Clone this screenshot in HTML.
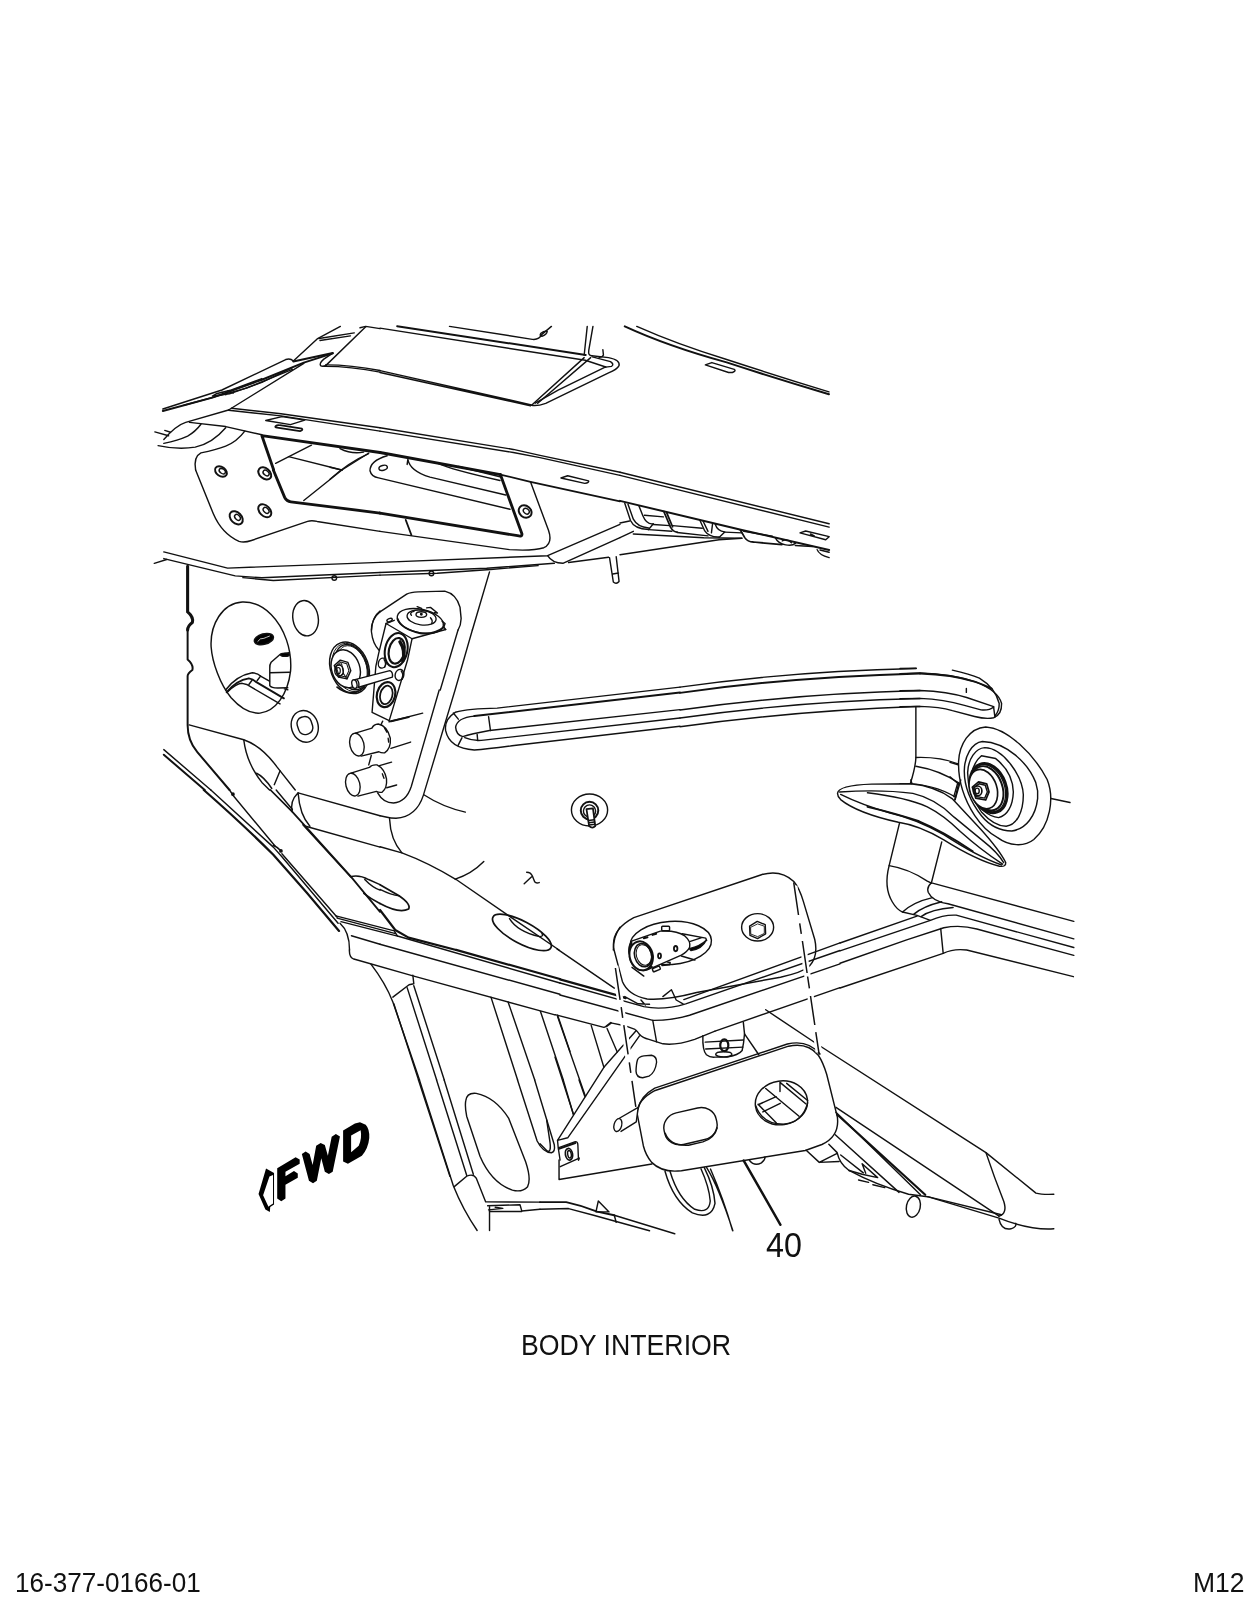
<!DOCTYPE html>
<html><head><meta charset="utf-8">
<style>
html,body{margin:0;padding:0;background:#fff;}
body{width:1260px;height:1605px;position:relative;overflow:hidden;font-family:"Liberation Sans",sans-serif;color:#111;}
svg{position:absolute;left:0;top:0;}
.t{position:absolute;white-space:nowrap;line-height:1;transform:scaleY(1.075);transform-origin:50% 50%;will-change:transform;opacity:0.999;}
</style></head><body>
<svg width="1260" height="1605" viewBox="0 0 1260 1605" fill="none" stroke="#111" stroke-width="1.45" stroke-linecap="round" stroke-linejoin="round">
<g transform="translate(140,310) scale(0.190476)" stroke-width="7.47">
<path d="M1052,86 L930,152 L805,268"/>
<path d="M1125,120 L940,150 M1105,136 L945,160"/>
<path d="M1155,93 L1185,86 L1260,98"/>
<path d="M1185,88 L975,292"/>
<path d="M120,520 L430,420 L765,260 Q790,252 805,268"/>
<path d="M805,270 L1012,226" stroke-width="10.35"/>
<path d="M1012,226 L965,258 Q940,280 948,292 Q960,300 978,290"/>
<path d="M965,296 Q1100,295 1260,326"/>
<path d="M975,288 Q1110,288 1260,318"/>
<path d="M1012,228 L860,276 L640,366 L380,460 L120,530" stroke-width="10.35"/>
<path d="M800,302 L640,380 L470,440 L380,452 L400,440 L480,420 L640,360"/>
<path d="M430,432 L450,445 M460,425 L490,436"/>
<path d="M800,312 L560,410 L230,500"/>
<path d="M860,280 L465,525"/>
<path d="M465,525 L240,590 Q190,605 125,680"/>
<path d="M480,516 L740,545 L1260,618"/>
<path d="M465,526 L740,556 L1260,636"/>
<path d="M260,590 L450,612 L640,655"/>
<path d="M660,580 L745,560 L865,578 L790,602 Z"/>
<path d="M712,610 Q720,602 735,605 L850,623 Q858,630 840,636 L720,618 Q706,616 712,610 Z" stroke-width="9.20"/>
<path d="M78,640 L150,660 M130,632 L160,642"/>
<path d="M125,700 Q200,685 250,662 Q290,640 320,600"/>
<path d="M95,712 Q200,735 290,720 Q380,700 450,618"/>
<path d="M292,840 Q280,770 320,750 Q400,735 450,715 Q510,690 550,636"/>
<path d="M640,660 L1260,748 M640,660 L702,840" stroke-width="14.95"/>
<path d="M712,805 L900,710"/>
<path d="M780,770 L1060,840"/>
<path d="M1060,840 L1200,752"/>
</g>

<g transform="translate(380,310) scale(0.190476)" stroke-width="7.47">
<path d="M0,95 L1078,264 L1185,299"/>
<path d="M90,85 L1080,236" stroke-width="10.35"/>
<path d="M365,86 L800,154 Q835,158 850,128 L900,86"/>
<path d="M845,122 Q835,135 850,138 Q875,130 878,112 Q862,108 845,122 Z"/>
<path d="M1088,86 L1072,236 M1118,86 L1096,212 Q1092,240 1112,240"/>
<path d="M1170,208 L1173,236 Q1168,248 1150,248"/>
<path d="M1112,240 L1200,250 Q1262,262 1255,292 Q1245,312 1200,330 L870,490 Q825,506 795,500"/>
<path d="M1115,246 L1210,271 Q1232,286 1215,296 L1185,300"/>
<path d="M800,496 L1072,250 M828,490 L1106,250"/>
<path d="M815,489 L935,421 L1185,299"/>
<path d="M0,318 L795,498 M0,328 L790,503"/>
<path d="M0,618 L700,732 L840,763 L1260,852"/>
<path d="M0,636 L700,748 L840,775 L1260,868"/>
</g>

<g transform="translate(620,310) scale(0.190476)" stroke-width="7.47">
<path d="M25,86 Q250,190 560,275 Q820,360 1097,442" stroke-width="10.35"/>
<path d="M88,86 Q300,180 560,260 Q820,345 1097,430"/>
<path d="M448,288 L482,276 L600,312 Q612,320 590,328 L570,328 Z"/>
</g>

<g transform="translate(140,470) scale(0.190476)" stroke-width="7.47">
<path d="M292,0 L385,230 Q430,335 520,375 Q548,383 585,370 L880,270 Q900,263 930,270 L1260,322"/>
<g stroke-width="10.35">
<ellipse cx="425" cy="8" rx="34" ry="24" transform="rotate(35 425 8)"/>
<ellipse cx="655" cy="18" rx="38" ry="27" transform="rotate(40 655 18)"/>
<ellipse cx="505" cy="251" rx="40" ry="28" transform="rotate(45 505 251)"/>
<ellipse cx="655" cy="214" rx="40" ry="27" transform="rotate(45 655 214)"/>
</g>
<ellipse cx="432" cy="6" rx="18" ry="12" transform="rotate(35 432 6)"/>
<ellipse cx="662" cy="16" rx="18" ry="12" transform="rotate(40 662 16)"/>
<ellipse cx="512" cy="249" rx="18" ry="12" transform="rotate(45 512 249)"/>
<ellipse cx="662" cy="212" rx="18" ry="12" transform="rotate(45 662 212)"/>
<path d="M700,0 L760,145 Q770,165 792,167 L1260,226" stroke-width="14.95"/>
<path d="M860,160 L1060,0"/>
<path d="M125,430 L460,515 L1260,485"/>
<path d="M75,490 L140,470"/>
<path d="M125,465 L500,556 L640,566 L1260,538"/>
<path d="M540,565 L700,580 L1260,552"/>
<circle cx="1020" cy="567" r="12"/>
<path d="M250,505 L250,745 Q282,772 275,800 Q250,818 250,840" stroke-width="16.10"/>
<path d="M1215,840 Q1220,770 1260,740"/>
</g>

<g transform="translate(380,470) scale(0.190476)" stroke-width="7.47">
<path d="M0,-92 L632,24" stroke-width="14.95"/>
<path d="M632,24 L790,62 L1260,165" stroke-width="9.20"/>
<path d="M950,42 L985,30 L1095,57 Q1100,66 1075,70 Z"/>
<path d="M632,24 L745,335 Q748,352 722,345 L0,226" stroke-width="14.95"/>
<path d="M0,322 L680,418 Q800,426 860,408 Q908,385 885,318 L790,62"/>
<path d="M135,262 L165,342" stroke-width="9.20"/>
<ellipse cx="762" cy="218" rx="36" ry="30" transform="rotate(40 762 218)" stroke-width="10.35"/>
<ellipse cx="768" cy="216" rx="17" ry="13" transform="rotate(40 768 216)"/>
<path d="M0,485 L880,450 L1260,285"/>
<path d="M880,450 Q905,490 960,490 L1260,355"/>
<path d="M0,538 L560,516 L915,490"/>
<path d="M0,552 L300,542 L580,522 L830,502"/>
<circle cx="270" cy="543" r="12"/>
<path d="M990,486 L1200,458"/>
<path d="M1205,460 L1225,588 Q1240,602 1255,585 L1240,455 M1222,546 L1252,541"/>
<path d="M575,535 L485,840"/>
<path d="M0,745 L140,652 Q160,641 200,640 L340,636 Q400,650 420,720 L426,780 Q425,815 410,840"/>
</g>

<g transform="translate(620,470) scale(0.190476)" stroke-width="7.47">
<path d="M0,12 L1098,282 M0,28 L1098,300"/>
<path d="M0,162 L640,315 L1098,420" stroke-width="10.35"/>
<path d="M945,330 L975,320 L1098,350 L1080,366 Z M1000,336 L1020,346"/>
<path d="M25,175 L55,265 Q75,310 150,312 M42,180 L70,258 Q92,300 150,304"/>
<path d="M100,190 L120,240 Q140,288 175,282 L150,312"/>
<path d="M128,238 L228,246 M175,286 L262,292 M150,313 L272,322 M300,328 L462,346 M276,292 L432,306"/>
<path d="M230,218 L265,300 Q280,326 300,326 M246,226 L276,298" stroke-width="9.20"/>
<path d="M420,265 L445,320 Q468,354 520,352 M436,268 L462,322"/>
<path d="M486,282 L480,330 M500,285 Q512,322 550,325 L520,355"/>
<path d="M550,326 L640,330"/>
<path d="M632,315 L655,355 Q670,378 700,378 L850,392" stroke-width="9.20"/>
<path d="M650,322 L800,348"/>
<path d="M815,355 Q830,386 870,393 Q905,400 922,384 M852,372 Q880,358 900,382"/>
<path d="M920,396 L1010,402"/>
<path d="M1035,418 Q1045,446 1098,460 M1050,420 L1098,432"/>
<path d="M0,278 L50,268 M0,355 L70,322"/>
<path d="M70,336 L440,356 L640,358"/>
<path d="M0,445 L520,366 L640,358"/>
</g>

<g transform="translate(330,425) scale(0.142857)" stroke-width="10.06">
<path d="M70,165 Q150,206 235,190"/>
<path d="M0,380 Q130,262 270,200"/>
<path d="M0,296 L83,316"/>
<path d="M400,215 Q280,250 280,320 Q290,362 340,370 L1260,590"/>
<ellipse cx="372" cy="300" rx="30" ry="17" transform="rotate(-15 372 300)"/>
<path d="M540,276 L545,240 Q560,322 700,365 L1230,490"/>
<path d="M760,270 Q850,312 1190,388"/>
<path d="M900,290 L1190,362"/>
</g>

<g transform="translate(140,630) scale(0.190476)" stroke-width="7.47">
<path d="M250,0 L250,155 Q282,182 275,210 Q250,228 250,242 L250,500 Q250,580 300,640 L470,840" stroke-width="10.35"/>
<ellipse cx="865" cy="506" rx="70" ry="84" transform="rotate(-18 865 506)"/>
<rect x="828" y="455" width="76" height="94" rx="34" transform="rotate(-18 865 502)"/>
<path d="M258,498 L545,576 Q640,610 720,720 L815,840"/>
<path d="M545,578 Q560,700 640,800 L680,840"/>
<path d="M612,752 Q650,770 692,832"/>
<path d="M735,740 L705,812"/>
<path d="M125,628 L372,840"/>
<path d="M125,655 L340,840" stroke-width="10.35"/>
</g>

<g transform="translate(440,630) scale(0.190476)" stroke-width="7.47">
<path d="M1260,300 L300,410 Q150,412 80,432 Q20,470 30,530 Q50,622 180,630 Q250,626 400,605 L1260,505"/>
<path d="M1260,328 L180,452" stroke-width="10.35"/>
<path d="M180,452 Q90,460 82,510 Q85,552 120,560 Q160,546 260,528 L1260,418"/>
<path d="M1260,462 L230,578 Q180,586 130,565"/>
<path d="M255,455 L265,528 M195,548 L198,580 M115,566 L95,606 M70,436 L96,468"/>
</g>

<g transform="translate(680,630) scale(0.190476)" stroke-width="7.47">
<path d="M0,300 Q600,215 1240,202"/>
<path d="M0,330 Q600,245 1260,228" stroke-width="10.35"/>
<path d="M0,420 Q600,335 1260,318"/>
<path d="M0,462 Q600,376 1260,360"/>
<path d="M0,508 Q600,425 1240,402 L1260,402"/>
</g>

<g transform="translate(900,640) scale(0.15873)" stroke-width="8.97">
<path d="M0,180 L102,178"/>
<path d="M0,212 L126,208 Q330,215 480,265 Q620,320 640,400 Q642,470 590,490 Q540,500 470,482 L330,445 Q250,420 126,418 L0,420"/>
<path d="M126,211 Q330,218 470,262 Q540,286 578,306" stroke-width="11.50"/>
<path d="M330,190 Q440,215 500,240 Q600,300 625,400 Q626,445 600,476"/>
<path d="M0,320 L126,318 Q300,325 420,362 L590,420"/>
<path d="M0,370 L126,368 Q280,375 400,410 L510,440 Q560,446 590,422"/>
<path d="M590,425 L598,486 M418,305 L418,330"/>
<path d="M100,420 L100,740 Q98,800 65,905"/>
<path d="M100,740 Q250,735 365,780 M100,795 Q250,820 370,900 L345,1008"/>
<path d="M0,905 Q200,900 350,990"/>
</g>

<g transform="translate(200,600) scale(0.111111)" stroke-width="12.99">
<path d="M380,18 C200,30 90,220 100,420 C110,560 180,760 280,880 C360,970 450,1025 540,1018 C680,1000 790,850 815,640 C830,450 760,250 640,130 C560,50 460,15 380,18 Z"/>
<ellipse cx="950" cy="164" rx="114" ry="160" transform="rotate(-10 950 164)"/>
<ellipse cx="575" cy="352" rx="88" ry="47" transform="rotate(-15 575 352)" fill="#000"/>
<path d="M520,372 Q540,340 575,345 Q600,335 625,325" stroke="#fff" stroke-width="6.90"/>
<path d="M800,475 L720,490 L640,560 Q625,580 628,620 L628,770 Q640,790 700,792 L790,790 M628,655 L805,650"/>
<ellipse cx="765" cy="492" rx="40" ry="14" fill="#000"/>
<path d="M230,810 Q330,680 470,655 Q520,660 545,685 L625,730"/>
<path d="M240,830 Q330,720 440,705 Q480,712 500,735 L755,885" stroke-width="17.25"/>
<path d="M545,685 L515,725 M470,720 L440,760 M760,800 L790,808"/>
<path d="M250,825 Q330,750 380,750 L420,760 L720,935"/>
</g>

<g transform="translate(950,730) scale(0.095238)" stroke-width="14.95">
<path d="M375,-32 C200,-20 100,150 90,330 C85,500 130,700 260,900 C340,1020 420,1090 500,1130 C620,1220 780,1230 880,1150 C1050,1000 1100,720 1020,520 C880,250 600,-20 375,-32 Z" fill="#fff"/>
<path d="M340,120 C230,130 150,280 150,430 C150,600 220,760 330,900 C420,1010 520,1060 650,1060 C800,1040 900,900 920,720 L920,640 L900,550 C820,350 600,130 340,120 Z"/>
<path d="M365,185 C270,190 190,300 185,450 C185,600 240,740 330,860 C420,960 500,1010 590,1010 C700,1000 770,860 770,680 C760,480 560,190 365,185 Z"/>
<path d="M330,270 L480,300 C580,380 660,500 665,650 C660,800 600,900 510,920 C400,910 300,820 240,700 C190,580 210,370 330,270 Z"/>
<ellipse cx="405" cy="610" rx="185" ry="268" transform="rotate(-20 405 610)" stroke-width="27.60"/>
<ellipse cx="398" cy="611" rx="175" ry="256" transform="rotate(-20 398 611)" stroke-width="13.80"/>
<ellipse cx="390" cy="612" rx="160" ry="240" transform="rotate(-20 390 612)" stroke-width="20.70"/>
<ellipse cx="350" cy="620" rx="142" ry="212" transform="rotate(-18 350 620)" fill="#fff" stroke-width="17.25"/>
<path d="M235,600 L300,545 L385,565 L410,650 L375,735 L270,715 Z" stroke-width="18.40"/>
<path d="M250,605 L305,565 L370,580 L392,650 L365,715 L280,700 Z"/>
<ellipse cx="290" cy="640" rx="45" ry="52" stroke-width="17.25"/>
<ellipse cx="285" cy="640" rx="22" ry="30"/>
<path d="M1060,720 L1260,762"/>
<path d="M0,340 L85,365 M0,490 L80,560 L40,700"/>
</g>

<g transform="translate(320,600) scale(0.126984)" stroke-width="10.92">
<!-- bracket outline near valve -->
<path d="M472,94 Q400,150 405,250 Q415,345 465,395"/>
<path d="M1087,236 L947,709"/>
<!-- valve body -->
<path d="M520,185 L462,420 L440,520 L410,885 L545,950 L690,470 L725,305 Z"/>
<path d="M520,185 L585,160 M725,305 L990,232"/>
<ellipse cx="548" cy="158" rx="22" ry="12" transform="rotate(-20 548 158)"/>
<!-- ports -->
<ellipse cx="600" cy="395" rx="88" ry="136" transform="rotate(12 600 395)" stroke-width="16.10"/>
<ellipse cx="604" cy="400" rx="62" ry="102" transform="rotate(12 604 400)" stroke-width="17.25"/>
<path d="M630,330 Q676,400 652,478" stroke-width="27.60"/>
<ellipse cx="520" cy="745" rx="72" ry="100" transform="rotate(14 520 745)" stroke-width="17.25"/>
<ellipse cx="522" cy="748" rx="48" ry="74" transform="rotate(14 522 748)" stroke-width="13.80"/>
<ellipse cx="490" cy="497" rx="30" ry="40" transform="rotate(15 490 497)"/>
<path d="M505,470 Q525,500 510,530"/>
<ellipse cx="626" cy="590" rx="34" ry="44" transform="rotate(15 626 590)"/>
<path d="M640,560 Q662,590 648,625"/>
<!-- top disc -->
<ellipse cx="790" cy="165" rx="185" ry="92" transform="rotate(12 790 165)"/>
<path d="M612,150 Q640,230 790,262 Q900,275 975,215" stroke-width="14.95"/>
<ellipse cx="800" cy="138" rx="115" ry="58" transform="rotate(8 800 138)"/>
<ellipse cx="798" cy="115" rx="42" ry="22"/>
<circle cx="798" cy="112" r="6" fill="#000"/>
<path d="M765,52 L800,66 M840,62 L870,58 L925,102 L900,100 M962,168 L985,185 L975,215 L990,232"/>
<path d="M870,140 Q890,160 880,185 M720,120 Q700,100 740,90"/>
</g>

<g transform="translate(320,630) scale(0.063492)" stroke-width="21.85">
<!-- nut fastener -->
<ellipse cx="465" cy="595" rx="298" ry="418" transform="rotate(-20 465 595)" stroke-width="23.00"/>
<ellipse cx="478" cy="590" rx="270" ry="392" transform="rotate(-20 478 590)" stroke-width="13.80"/>
<ellipse cx="492" cy="585" rx="245" ry="368" transform="rotate(-20 492 585)" stroke-width="20.70"/>
<ellipse cx="505" cy="580" rx="222" ry="345" transform="rotate(-20 505 580)" stroke-width="13.80"/>
<ellipse cx="405" cy="610" rx="222" ry="305" transform="rotate(-18 405 610)" fill="#fff" stroke-width="23.00"/>
<path d="M225,560 L320,475 L440,510 L485,640 L425,770 L290,740 Z" stroke-width="23.00"/>
<path d="M250,570 L325,505 L420,530 L455,640 L410,740 L300,715 Z" stroke-width="16.10"/>
<path d="M340,530 L372,690 L425,770 M372,690 L290,740 M340,530 L250,570" stroke-width="16.10"/>
<ellipse cx="300" cy="640" rx="68" ry="88" stroke-width="20.70"/>
<ellipse cx="288" cy="640" rx="32" ry="50" stroke-width="18.40"/>
<path d="M270,900 Q400,1012 560,980 Q630,960 700,900" stroke-width="29.90"/>
<!-- rod -->
<path d="M520,790 L1100,640 Q1152,660 1140,742 L610,902" fill="#fff"/>
<ellipse cx="542" cy="852" rx="40" ry="68" transform="rotate(-12 542 852)" fill="#fff"/>
<path d="M585,782 Q625,830 608,900"/>
</g>

<g transform="translate(330,690) scale(0.126984)" stroke-width="10.92">
<path d="M860,0 L640,760 Q600,882 500,890 Q420,890 375,810"/>
<path d="M1121,-472 L985,0 L735,830 Q680,1000 520,1010 Q480,1010 440,1000 L394,990"/>
<path d="M415,245 L400,276"/>
<path d="M465,250 L730,182"/>
<path d="M480,246 L620,214" stroke-width="14.95"/>
<!-- cyl 1 -->
<path d="M200,340 L330,300 Q345,270 380,268 Q450,282 475,380 Q482,460 430,495 Q402,497 385,486 L245,521" fill="#fff"/>
<ellipse cx="212" cy="430" rx="55" ry="91" transform="rotate(-14 212 430)" fill="#fff"/>
<path d="M430,300 L448,332 M458,380 L462,410"/>
<path d="M480,460 L635,410"/>
<path d="M325,516 L305,590"/>
<!-- cyl 2 -->
<path d="M165,655 L310,610 Q330,586 370,590 Q430,620 445,700 Q452,772 410,805 Q385,809 365,798 L220,836" fill="#fff"/>
<ellipse cx="180" cy="745" rx="55" ry="91" transform="rotate(-14 180 745)" fill="#fff"/>
<path d="M412,660 L425,695"/>
<path d="M390,595 L485,568 M447,770 L525,748"/>
</g>

<g transform="translate(140,790) scale(0.190476)" stroke-width="7.47">
<path d="M335,0 Q540,180 700,340 Q880,540 1045,740" stroke-width="11.50"/>
<path d="M372,0 L700,300 L745,350 L1040,700"/>
<path d="M470,0 L490,30 L710,295 M745,335 L1035,668"/>
<circle cx="488" cy="22" r="6" fill="#000"/><circle cx="740" cy="320" r="6" fill="#000"/>
<path d="M700,290 Q722,300 738,318"/>
<path d="M685,0 L800,115 L1105,452 L1260,640" stroke-width="9.20"/>
<path d="M715,0 L800,102"/>
<path d="M830,15 L1260,135"/>
<path d="M830,15 Q785,60 800,115 M830,15 Q838,130 892,190"/>
<path d="M870,190 L1260,300"/>
<path d="M855,182 L1105,455"/>
<path d="M1105,455 Q1150,443 1200,470 L1260,497"/>
<path d="M1180,470 Q1220,512 1260,526"/>
<path d="M1050,700 Q1100,745 1100,840"/>
<path d="M1110,765 L1260,810"/>
</g>

<g transform="translate(380,790) scale(0.190476)" stroke-width="7.47">
<path d="M230,25 Q330,90 448,116"/>
<path d="M50,150 Q55,262 115,330"/>
<path d="M0,298 L115,330 Q250,380 400,470 L690,670 L940,840"/>
<path d="M395,468 Q480,442 545,376"/>
<path d="M770,432 Q792,432 800,452 L812,482 Q820,492 836,486 M796,455 L757,492"/>
<ellipse cx="1100" cy="105" rx="95" ry="84"/>
<circle cx="1100" cy="108" r="46" stroke-width="10.35"/>
<circle cx="1100" cy="110" r="32"/>
<path d="M1084,100 L1098,190 Q1115,205 1130,190 L1118,96 Z" fill="#fff" stroke-width="9.20"/>
<path d="M1094,160 L1125,156 M1096,172 L1127,168 M1098,184 L1129,180"/>
<path d="M0,497 L100,555 Q165,600 150,625 Q100,650 0,596" stroke-width="9.20"/>
<path d="M0,522 Q60,552 100,556"/>
<ellipse cx="745" cy="748" rx="172" ry="58" transform="rotate(28 745 748)" stroke-width="9.20"/>
<path d="M680,675 Q720,742 838,770 Q862,766 850,755"/>
<path d="M0,630 L80,735 L150,775 L400,840" stroke-width="11.50"/>
<path d="M1260,720 Q1225,770 1225,840"/>
</g>

<g transform="translate(820,780) scale(0.206349)" stroke-width="6.90">
<!-- flap -->
<path d="M85,65 Q88,25 250,20 L440,18 Q560,30 640,90 L780,240 Q870,340 900,400 Q902,422 870,418 Q760,390 600,290 Q480,220 380,205 Q180,160 100,95 Q85,80 85,65 Z" fill="#fff"/>
<path d="M95,58 Q300,45 450,65 Q560,90 650,180 L790,295 Q860,350 890,400"/>
<path d="M230,62 Q420,85 520,130 Q600,170 680,250 Q780,340 885,408"/>
<path d="M100,70 Q200,120 340,160 Q470,190 600,265 Q760,370 880,412"/>
<path d="M230,130 Q380,165 480,200 Q600,250 740,345" stroke-width="9.20"/>
<path d="M440,0 L446,18 M655,95 L682,0"/>
<!-- column -->
<path d="M385,210 L335,415 Q308,520 350,590 Q372,628 400,640 L470,656 L535,680"/>
<path d="M590,300 L540,498"/>
<path d="M335,415 Q430,430 520,490 L540,500"/>
<path d="M540,498 Q515,520 525,545 Q545,588 620,600 L1230,770"/>
<path d="M545,500 L1230,685"/>
<path d="M400,640 Q450,592 545,570 M455,650 Q500,612 590,590 M490,662 Q540,626 645,618"/>
<!-- rails -->
<path d="M97,790 L470,660"/>
<path d="M97,828 L535,680 Q600,652 660,655 L1230,812"/>
<path d="M97,888 L420,775 L600,716 Q680,700 760,722 L1230,850"/>
<path d="M585,720 L597,840"/>
<path d="M97,1008 L597,840 Q646,816 711,824 L1228,953"/>
</g>

<g transform="translate(320,860) scale(0.126984)" stroke-width="10.92">
<path d="M472,343 Q400,305 345,262" stroke-width="12.65"/>
<path d="M125,440 L585,558 L610,600 L165,485 M135,458 L595,580"/>
</g>

<g transform="translate(590,850) scale(0.190476)" stroke-width="7.47">
<path d="M230,355 L900,130 Q1000,100 1070,165 Q1100,200 1120,270 L1180,470 Q1200,560 1150,612 Q1110,645 1000,668 L560,748 Q400,790 300,782 Q200,762 170,690 L125,520 Q108,420 230,355 Z"/>
<ellipse cx="424" cy="488" rx="214" ry="113" transform="rotate(-4 424 488)"/>
<!-- bolt -->
<ellipse cx="880" cy="406" rx="84" ry="72"/>
<path d="M838,400 L878,375 L920,392 L922,440 L880,465 L840,448 Z"/>
<path d="M845,405 L880,388 L915,400 L915,438 L880,455 L846,442 Z" stroke-width="4.60"/>
</g>

<g transform="translate(615,915) scale(0.0873)" stroke-width="16.45">
<path d="M770,215 L1040,265 L1050,292 M855,305 L985,262 M760,470 L915,515"/>
<path d="M850,385 Q980,355 1045,288 Q1000,385 870,408 Z" fill="#000"/>
<path d="M540,575 L625,568" stroke-width="23.00"/>
<path d="M600,540 L632,545 L628,565"/>
<path d="M190,300 L520,185 Q700,172 800,240 Q872,300 855,370 Q830,422 760,460 L440,600 L200,520 Z" fill="#fff"/>
<path d="M175,330 Q150,400 165,445 M168,480 Q180,570 270,622 Q350,652 420,602" stroke-width="20.70"/>
<ellipse cx="300" cy="468" rx="132" ry="168" transform="rotate(-15 300 468)" fill="#fff" stroke-width="23.00"/>
<ellipse cx="322" cy="460" rx="98" ry="135" transform="rotate(-15 322 460)" stroke-width="18.40"/>
<ellipse cx="330" cy="458" rx="85" ry="120" transform="rotate(-15 330 458)" stroke-width="11.50"/>
<rect x="535" y="128" width="90" height="52" rx="10"/>
<rect x="430" y="598" width="88" height="40" rx="8" transform="rotate(-22 474 618)" fill="#fff"/>
<ellipse cx="695" cy="385" rx="20" ry="30" stroke-width="20.70"/>
<ellipse cx="510" cy="468" rx="17" ry="28" stroke-width="20.70"/>
<path d="M330,266 L372,254 M430,228 L472,215" stroke-width="23.00"/>
<path d="M195,600 L330,700"/>
</g>

<g transform="translate(600,920) scale(0.190476)" stroke-width="7.47">
<path d="M1260,120 L440,418"/>
<path d="M1260,160 L450,440 Q330,476 230,455 L-210,331"/>
<path d="M1260,230 L470,500 Q380,528 277,527 L-210,394"/>
<path d="M1260,355 L604,583"/>
<path d="M-210,312 L82,393 L135,410" stroke-width="11.50"/>
<path d="M-226,152 L75,358"/>
<path d="M130,402 L200,440 L260,442 M215,420 L238,446 M330,402 L375,366 L400,420 L436,440"/>
</g>

<g transform="translate(560,960) scale(0.238095)" stroke-width="6.04">
<!-- clip -->
<path d="M600,318 Q598,380 615,398 Q630,410 651,408 L700,408 Q750,400 765,380 Q772,350 775,310 L770,262"/>
<path d="M610,345 L770,336 M612,374 L768,366 M775,310 L835,398"/>
<ellipse cx="690" cy="358" rx="17" ry="25" stroke-width="9.20"/>
<ellipse cx="688" cy="396" rx="34" ry="11"/>
<!-- plate 40 -->
<path d="M400,548 L960,362 Q1040,345 1085,400 Q1105,430 1120,480 L1165,660 Q1175,740 1100,775 L1030,800 L510,885 Q430,895 385,850 Q360,820 350,780 L325,650 Q320,590 400,548 Z" fill="#fff"/>
<path d="M328,625 Q338,572 398,538 L955,353 Q1040,333 1092,395"/>
<rect x="436" y="630" width="224" height="136" rx="66" ry="62" transform="rotate(-13 548 698)"/>
<path d="M442,728 Q462,782 540,778 L600,764 Q650,748 660,705"/>
<ellipse cx="930" cy="600" rx="110" ry="92" transform="rotate(-8 930 600)"/>
<path d="M822,612 Q850,690 940,690 Q1020,680 1040,600"/>
<path d="M864,540 L1004,656 M924,514 L1032,604 M952,518 L1040,590 M832,606 L908,684 M832,608 L908,574 M852,638 L925,602 M924,516 L924,552"/>
</g>

<g transform="translate(555,1000) scale(0.126984)" stroke-width="10.92">
<path d="M0,115 L385,215 L405,207 M440,180 L560,205 L630,232 Q650,245 665,270 Q690,300 740,310 L850,345 Q950,360 1100,310 L1260,245"/>
<path d="M405,207 L440,180" stroke-width="16.10"/>
<path d="M770,160 L800,330"/>
<path d="M20,130 L240,760 M0,450 L145,900 M285,200 L385,530 M410,225 L490,410"/>
<path d="M640,240 L385,530 L20,1105 L100,1085 L665,282"/>
<path d="M20,1105 L25,1160 L40,1260 M25,1165 L160,1115 Q180,1115 180,1140 L185,1260"/>
<path d="M30,1172 L160,1126" stroke-width="14.95"/>
<ellipse cx="110" cy="1215" rx="28" ry="46" transform="rotate(-10 110 1215)" stroke-width="13.80"/>
<ellipse cx="114" cy="1215" rx="14" ry="30" transform="rotate(-10 114 1215)"/>
<path d="M650,470 Q660,445 700,440 L760,435 Q802,445 800,490 Q790,570 740,600 L690,612 Q640,610 638,560 Q640,500 650,470 Z"/>
<path d="M500,935 L655,845 L640,960 L520,1035" fill="#fff"/>
<ellipse cx="495" cy="985" rx="30" ry="52" transform="rotate(15 495 985)" fill="#fff"/>
</g>

<g transform="translate(540,1120) scale(0.238095)" stroke-width="6.04">
<path d="M80,168 L80,250 L470,185"/>
<path d="M162,168 L165,160 L85,196"/>
<path d="M28,0 L40,80 Q50,140 30,130 L0,100"/>
<path d="M525,215 Q560,340 640,390 Q720,422 735,350 Q730,280 690,200"/>
<path d="M546,215 Q580,330 650,375 Q710,396 715,340 Q710,280 676,205"/>
<path d="M700,200 Q750,280 810,465 M716,206 Q770,330 808,462"/>
<path d="M855,170 L1010,440" stroke-width="10.35"/>
<path d="M880,170 Q900,196 930,180 Q946,166 945,155"/>
<path d="M0,345 L110,345 Q180,360 240,385 L312,400" stroke-width="8.05"/>
<path d="M0,375 L120,372 L225,400 L460,465"/>
<path d="M312,400 L566,478 M312,400 L320,430"/>
<path d="M245,340 L235,386 L290,386 Z"/>
</g>

<g transform="translate(780,1030) scale(0.238095)" stroke-width="6.04">
<path d="M-60,-85 L160,62 L865,515 L1075,685 Q1100,692 1150,690"/>
<path d="M865,515 Q900,620 940,720 Q956,770 920,782"/>
<path d="M235,325 L920,782"/>
<path d="M240,355 L610,692" stroke-width="9.20"/>
<path d="M235,345 L590,692 M232,440 L500,682 M255,525 L350,600"/>
<path d="M290,590 Q400,650 540,690 L620,700 L920,790 Q1050,842 1150,835"/>
<path d="M620,700 L930,776"/>
<ellipse cx="560" cy="742" rx="29" ry="45" transform="rotate(12 560 742)"/>
<path d="M920,795 Q930,842 970,835 Q996,826 990,812"/>
<path d="M110,505 L165,556 L248,552 M165,556 L240,518 M205,480 L240,515 Q250,562 290,590"/>
<path d="M290,590 L345,606 L410,620 L345,562 L360,602"/>
<path d="M330,630 L372,640 M390,650 L440,662"/>
</g>

<g transform="translate(330,920) scale(0.190476)" stroke-width="7.47">
<path d="M662,157 L1207,310" stroke-width="11.50"/>
<path d="M354,84 L1207,331"/>
<path d="M262,127 L1207,390"/>
<path d="M102,157 Q100,196 125,205 L440,295 L1181,498"/>
<path d="M215,232 Q290,330 330,430 L470,840"/>
<path d="M335,440 L465,840"/>
<path d="M330,405 L415,340 L440,335 L435,290"/>
<path d="M405,355 L560,840 M440,345 L600,840"/>
<path d="M845,405 L985,840 M935,430 L1075,840 M1105,480 L1225,840 M1195,500 L1260,690"/>
</g>

<g transform="translate(400,1080) scale(0.190476)" stroke-width="7.47">
<path d="M102,0 L280,555 Q330,680 405,790"/>
<path d="M97,0 L262,505"/>
<path d="M192,0 L350,500 M232,0 L385,495"/>
<path d="M285,560 L350,505 Q385,490 400,515 L450,640 L735,641"/>
<path d="M345,110 Q350,65 400,70 Q500,90 570,200 L660,430 Q690,520 670,560 Q640,592 590,578 Q480,540 420,400 L350,190 Q340,140 345,110 Z"/>
<path d="M617,0 L720,320 Q750,380 795,382 Q816,375 810,340 L707,0"/>
<path d="M857,0 L910,180 M940,0 L970,85"/>
<path d="M460,660 L630,655 L640,690 L470,690 M640,688 L735,679"/>
<path d="M470,665 L470,790"/>
<path d="M465,682 L540,674 L500,668"/>
</g>

<g transform="translate(240,1100) scale(0.126984)" stroke="none" fill="#000">
<path d="M293,538 L438,450 L470,468 L470,502 L358,566 L358,600 L425,560 L455,578 L455,612 L358,668 L358,775 L325,797 L293,775 Z"/>
<path d="M487,425 L517,405 L548,425 L572,512 L600,360 L635,338 L668,355 L692,440 L722,290 L755,268 L787,287 L730,565 L700,582 L668,565 L640,458 L605,635 L575,656 L543,635 Z"/>
<path fill-rule="evenodd" d="M812,240 L905,185 L945,175 L990,195 Q1022,230 1018,300 Q1010,382 960,440 L850,502 L812,485 Z M875,280 L950,238 Q962,300 935,360 L875,412 Z"/>
<path fill-rule="evenodd" d="M205,540 L268,575 L268,822 L238,842 L235,882 L200,862 L146,740 Z M232,602 L260,590 L260,815 L230,835 L224,840 L182,750 Z"/>
</g>

<g stroke-linecap="butt">
<path d="M615.1,966.0 L635.4,1104.0 M794.2,886.0 L818.8,1052.0" stroke="#fff" stroke-width="6.44"/>
<path d="M615.4,968.0 L620.1,999.8 M621.2,1007.2 L622.7,1017.8 M623.8,1025.2 L628.1,1054.3 M629.3,1062.3 L630.8,1072.9 M632.0,1080.8 L635.8,1106.8 M793.7,882.4 L798.5,915.0 M799.7,923.3 L801.3,933.9 M802.4,941.0 L807.1,973.0 M807.6,976.5 L809.4,988.3 M810.5,996.0 L814.8,1025.0 M815.8,1032.1 L819.2,1054.6" stroke-width="1.49"/>
</g>

</svg>
<div class="t" style="left:520.8px;top:1331.8px;font-size:26.7px;">BODY INTERIOR</div>
<div class="t" style="left:15.2px;top:1568.5px;font-size:26.1px;">16-377-0166-01</div>
<div class="t" style="left:1193px;top:1568.5px;font-size:26.5px;">M12</div>
<div class="t" style="left:766.3px;top:1229.3px;font-size:32.3px;">40</div>
</body></html>
